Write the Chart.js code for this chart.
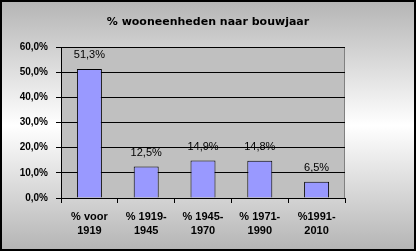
<!DOCTYPE html>
<html>
<head>
<meta charset="utf-8">
<script src="https://cdn.jsdelivr.net/npm/chart.js@4/dist/chart.umd.min.js"></script>
<style>
html,body{margin:0;padding:0;background:#fff;}
#wrap{width:416px;height:251px;}
</style>
</head>
<body>
<div id="wrap"><canvas id="c" width="416" height="251"></canvas></div>
<script>
const chartTitle = '% wooneenheden naar bouwjaar';
const categories = [['% voor','1919'],['% 1919-','1945'],['% 1945-','1970'],['% 1971-','1990'],['%1991-','2010']];
const values = [51.3, 12.5, 14.9, 14.8, 6.5];
const yTicks = [0, 10, 20, 30, 40, 50, 60];

const fmt = v => v.toFixed(1).replace('.', ',') + '%';

const bgPlugin = {
  id: 'bg',
  beforeDraw(chart) {
    const {ctx, width, height, chartArea: a} = chart;
    ctx.save();
    const g = ctx.createLinearGradient(0, 0, 0, height);
    g.addColorStop(0, '#b4b4b4');
    g.addColorStop(0.5, '#ffffff');
    g.addColorStop(1, '#b4b4b4');
    ctx.fillStyle = g;
    ctx.fillRect(0, 0, width, height);
    ctx.fillStyle = '#c0c0c0';
    ctx.fillRect(a.left, a.top, a.right - a.left, a.bottom - a.top);
    ctx.strokeStyle = '#808080';
    ctx.lineWidth = 1;
    ctx.beginPath();
    ctx.moveTo(a.left, a.top + 0.5);
    ctx.lineTo(a.right - 0.5, a.top + 0.5);
    ctx.lineTo(a.right - 0.5, a.bottom);
    ctx.stroke();
    // title
    ctx.fillStyle = '#000';
    ctx.font = 'bold 11px "DejaVu Sans", Verdana, sans-serif';
    ctx.textAlign = 'center';
    ctx.textBaseline = 'middle';
    ctx.fillText(chartTitle, 208, 22.5);
    ctx.restore();
  },
  afterDraw(chart) {
    const {ctx, width, height} = chart;
    ctx.save();
    const meta = chart.getDatasetMeta(0);
    ctx.font = '11px "Liberation Sans", Arial, sans-serif';
    ctx.fillStyle = '#000';
    ctx.textAlign = 'center';
    ctx.textBaseline = 'middle';
    meta.data.forEach((el, i) => {
      ctx.fillText(fmt(values[i]), el.x, el.y - 14);
    });
    ctx.strokeStyle = '#000';
    ctx.lineWidth = 2;
    ctx.strokeRect(1, 1, width - 2, height - 2);
    ctx.restore();
  }
};

new Chart(document.getElementById('c'), {
  type: 'bar',
  data: {
    labels: categories,
    datasets: [{
      data: values,
      backgroundColor: '#9999ff',
      borderColor: '#000',
      borderWidth: 1,
      categoryPercentage: 1,
      barPercentage: 0.44
    }]
  },
  options: {
    responsive: false,
    animation: false,
    devicePixelRatio: 1,
    layout: {padding: {left: 0, right: 71, top: 47, bottom: 0}},
    plugins: {
      legend: {display: false},
      tooltip: {enabled: false},
      title: {display: false}
    },
    scales: {
      x: {
        grid: {offset: true, drawOnChartArea: false, tickLength: 5, color: '#000'},
        border: {color: '#000', width: 1},
        ticks: {
          color: '#000',
          maxRotation: 0,
          padding: 6,
          font: {family: '"Liberation Sans", Arial, sans-serif', size: 11, weight: 'bold', lineHeight: 1.36}
        },
        afterFit(s) { s.height = 53; }
      },
      y: {
        min: 0,
        max: 60,
        afterBuildTicks(s) { s.ticks = yTicks.map(v => ({value: v})); },
        grid: {color: '#000', tickLength: 5, lineWidth: 1},
        border: {color: '#000', width: 1},
        ticks: {
          color: '#000',
          padding: 8,
          callback: v => fmt(v),
          font: {family: '"Liberation Sans", Arial, sans-serif', size: 10, weight: 'bold'}
        },
        afterFit(s) { s.width = 61; }
      }
    }
  },
  plugins: [bgPlugin]
});
</script>
</body>
</html>
